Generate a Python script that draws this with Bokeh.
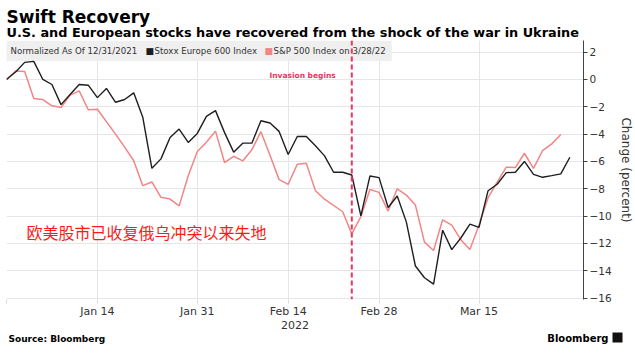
import numpy as np
import pandas as pd
from bokeh.plotting import figure
from bokeh.layouts import column, row
from bokeh.models import Range1d, FixedTicker, Span, Label, BoxAnnotation, ColumnDataSource
from bokeh.embed import file_html
from bokeh.resources import INLINE

# ---------------- data ----------------
base_date = "2021-12-31"
stoxx_dates = [d.strftime("%Y-%m-%d") for d in pd.bdate_range("2021-12-31", "2022-03-29")]
stoxx_values = [
    0.00, 0.54, 1.25, 1.32, 0.00, -0.37, -1.84, -1.10, -0.37, -0.42,
    -1.33, -0.66, -1.67, -1.47, -0.98, -2.77, -6.50, -5.81, -4.24, -3.63,
    -4.61, -3.95, -2.70, -2.28, -3.89, -5.32, -4.66, -4.66, -3.02, -3.19,
    -3.80, -5.49, -4.17, -4.17, -4.85, -5.59, -6.79, -6.79, -6.99, -9.98,
    -7.06, -7.18, -9.37, -8.53, -10.42, -13.65, -14.51, -14.98, -11.03, -12.45,
    -11.60, -10.59, -10.82, -8.14, -7.67, -6.82, -6.79, -6.00, -6.94, -7.16,
    -7.04, -6.91, -5.69,
]
us_holidays = ["2022-01-17", "2022-02-21"]
spx_dates = [d for d in stoxx_dates if d not in us_holidays and d <= "2022-03-28"]
spx_values = [
    0.00, 0.62, 0.58, -1.40, -1.47, -1.93, -2.05, -1.15, -0.84, -2.22,
    -2.18, -4.00, -4.95, -5.95, -7.77, -7.50, -8.62, -8.75, -9.25, -7.05,
    -5.27, -4.59, -3.78, -6.08, -5.62, -5.96, -5.15, -3.82, -5.55, -7.33,
    -7.68, -6.20, -6.14, -8.14, -8.76, -9.68, -11.30, -10.03, -8.05, -8.26,
    -9.63, -8.00, -8.46, -9.19, -11.90, -12.52, -10.27, -10.66, -11.72, -12.45,
    -10.65, -8.65, -7.52, -6.42, -6.45, -5.40, -6.50, -5.20, -4.72, -4.02,
]
x_tick_dates = ["2021-12-31", "2022-01-14", "2022-01-31", "2022-02-14", "2022-02-28", "2022-03-15"]
x_tick_labels = ["", "Jan 14", "Jan 31", "Feb 14", "Feb 28", "Mar 15"]
x_year_label = "2022"
y_ticks = [2, 0, -2, -4, -6, -8, -10, -12, -14, -16]
invasion_date = "2022-02-23"

title = "Swift Recovery"
subtitle = "U.S. and European stocks have recovered from the shock of the war in Ukraine"
legend_note = "Normalized As Of 12/31/2021"
stoxx_name = "Stoxx Europe 600 Index"
spx_name = "S&P 500 Index on 3/28/22"
annotation_cn = "欧美股市已收复俄乌冲突以来失地"
source_text = "Source: Bloomberg"
brand_text = "Bloomberg"

# ---------------- helpers ----------------
def bidx(dates):
    return [int(np.busday_count(base_date, d)) for d in dates]

STOXX_C = "#1e1e1e"
SPX_C = "#f28585"
INV_C = "#e8365d"
FONT = "DejaVu Sans"
W = 635

def blank(height, y_top, y_bottom):
    f = figure(width=W, height=height, x_range=Range1d(0, W), y_range=Range1d(y_bottom, y_top),
               x_axis_location=None, y_axis_location=None, output_backend="svg",
               toolbar_location=None, min_border=0, min_border_left=0, min_border_right=0,
               min_border_top=0, min_border_bottom=0)
    f.grid.visible = False
    f.outline_line_color = None
    f.background_fill_color = "white"
    f.border_fill_color = "white"
    return f

# ---------------- header ----------------
head = blank(40, 0, 40)
head.add_layout(Label(x=6, y=16.7, text=title, text_font=FONT, text_font_size="17px",
                      text_font_style="bold", text_color="#000000", text_baseline="alphabetic"))
head.add_layout(Label(x=6, y=32.3, text=subtitle, text_font=FONT, text_font_size="12.85px",
                      text_font_style="bold", text_color="#000000", text_baseline="alphabetic"))

# ---------------- main chart ----------------
x_end = 63.5
y_start, y_end = -16.1, 2.85

p = figure(width=W, height=291,
           x_range=Range1d(0, x_end), y_range=Range1d(y_start, y_end),
           y_axis_location="right", output_backend="svg", toolbar_location=None,
           min_border_left=6, min_border_right=50, min_border_top=0, min_border_bottom=31)
p.outline_line_color = None
p.background_fill_color = "white"
p.border_fill_color = "white"

xt = bidx(x_tick_dates)
p.xaxis.ticker = FixedTicker(ticks=xt)
p.xgrid.ticker = FixedTicker(ticks=xt)
p.yaxis.ticker = FixedTicker(ticks=y_ticks)
p.ygrid.ticker = FixedTicker(ticks=y_ticks)
p.xgrid.grid_line_color = "#e6e6e6"
p.ygrid.grid_line_color = "#e6e6e6"

xa = p.xaxis[0]
xa.major_label_overrides = {t: l for t, l in zip(xt, x_tick_labels)}
xa.axis_line_color = None
xa.major_tick_line_color = "#d9d9d9"
xa.major_tick_out = 4
xa.major_tick_in = 0
xa.minor_tick_line_color = None
xa.major_label_text_font = FONT
xa.major_label_text_font_size = "11px"
xa.major_label_text_color = "#333333"
xa.major_label_standoff = 1
xa.axis_label = x_year_label
xa.axis_label_text_font = FONT
xa.axis_label_text_font_size = "11px"
xa.axis_label_text_font_style = "normal"
xa.axis_label_text_color = "#333333"
xa.axis_label_standoff = 0

ya = p.yaxis[0]
ya.axis_line_color = "#444444"
ya.major_tick_line_color = "#444444"
ya.major_tick_out = 4
ya.major_tick_in = 0
ya.minor_tick_line_color = None
ya.major_label_text_font = FONT
ya.major_label_text_font_size = "10.5px"
ya.major_label_text_color = "#333333"
ya.major_label_standoff = 2
ya.axis_label = "Change (percent)"
ya.axis_label_text_font = FONT
ya.axis_label_text_font_size = "12px"
ya.axis_label_text_font_style = "normal"
ya.axis_label_text_color = "#333333"
ya.axis_label_standoff = 4

p.add_layout(BoxAnnotation(left=0, right=42.4, top=y_end, bottom=1.35,
                           fill_color="#efefef", fill_alpha=1.0, line_color=None,
                           level="underlay"))

s1 = ColumnDataSource(dict(x=bidx(stoxx_dates), y=stoxx_values))
s2 = ColumnDataSource(dict(x=bidx(spx_dates), y=spx_values))
p.line("x", "y", source=s2, line_color=SPX_C, line_width=1.5)
p.line("x", "y", source=s1, line_color=STOXX_C, line_width=1.4)

inv_x = bidx([invasion_date])[0]
p.add_layout(Span(location=inv_x, dimension="height", line_color=INV_C,
                  line_width=2, line_dash="5 3"))
p.add_layout(Label(x=inv_x, y=0.32, x_offset=-16, text="Invasion begins",
                   text_font=FONT, text_font_size="7.5px", text_font_style="bold",
                   text_color=INV_C, text_align="right", text_baseline="middle"))

leg_y = 2.08
def lab(text, xoff, color="#333333", size="8.6px"):
    p.add_layout(Label(x=0, y=leg_y, x_offset=xoff, text=text, text_font=FONT,
                       text_font_size=size, text_color=color, text_baseline="middle"))
lab(legend_note, 4)
lab("■", 139, STOXX_C, "9px")
lab(stoxx_name, 148)
lab("■", 258, SPX_C, "9px")
lab(spx_name, 267)

p.add_layout(Label(x=0, y=-11.19, x_offset=20, text=annotation_cn,
                   text_font="Noto Sans CJK SC", text_font_size="16px",
                   text_color="#ff1a1a", text_baseline="middle"))

# ---------------- footer ----------------
foot = blank(32, 331, 363)
foot.add_layout(Label(x=8, y=338, text=source_text, text_font=FONT, text_font_size="9px",
                      text_font_style="bold", text_color="#000000", text_baseline="middle"))
foot.add_layout(Label(x=608, y=337.5, text=brand_text, text_font=FONT, text_font_size="10px",
                      text_font_style="bold", text_color="#000000", text_align="right",
                      text_baseline="middle"))
foot.add_layout(BoxAnnotation(left=612, right=622, top=332, bottom=342,
                              fill_color="#111111", fill_alpha=1.0, line_color=None))

layout = column(row(head), row(p), row(foot), spacing=0)
open("out.html", "w").write(file_html(layout, INLINE))
